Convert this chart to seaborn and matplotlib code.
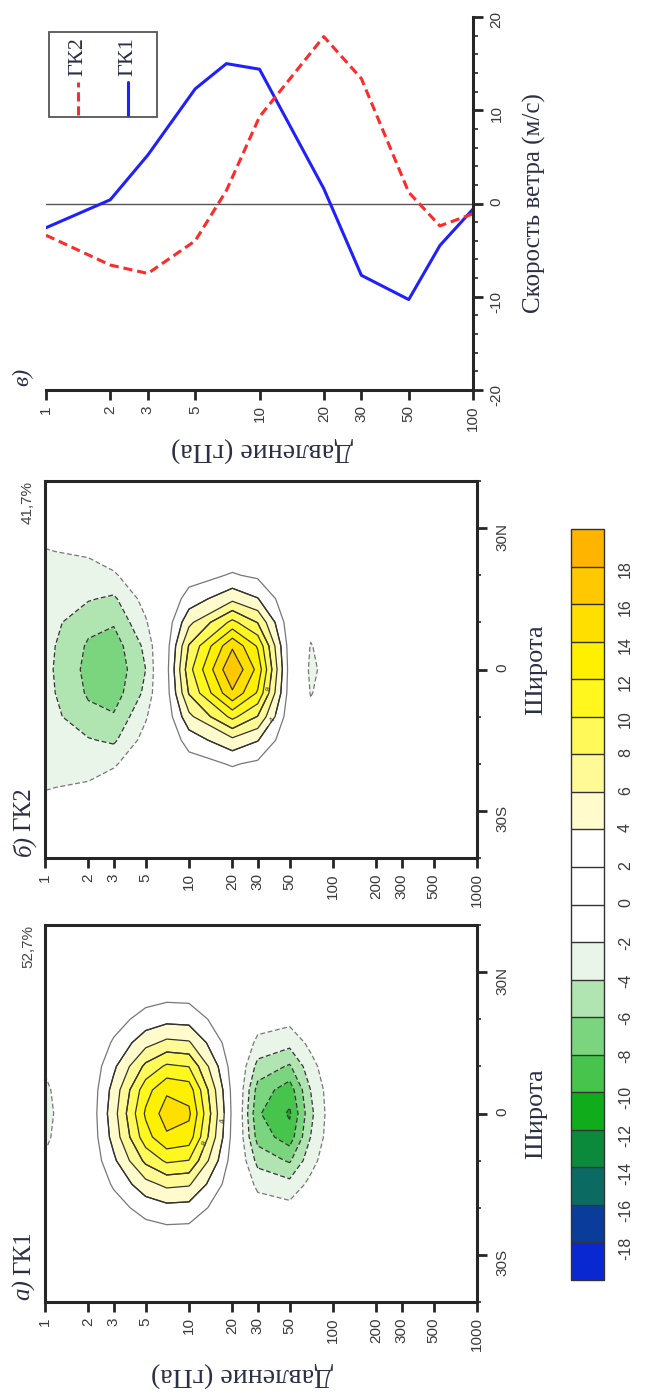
import numpy as np
import pandas as pd
import seaborn as sns
import matplotlib.pyplot as plt
from matplotlib.patches import Rectangle
from matplotlib.lines import Line2D
from matplotlib.ticker import NullLocator, FixedLocator

sns.set_style('ticks')
plt.rcParams['font.family'] = ['Liberation Sans', 'DejaVu Sans']
plt.rcParams['axes.unicode_minus'] = False
SERIF = ['Liberation Serif', 'DejaVu Serif']

# --- data -------------------------------------------------------------
# equatorial wind profiles of the two components (panel в), m/s
press = [1, 2, 3, 5, 7, 10, 20, 30, 50, 70, 100]
gk1_wind = [-2.6, 0.4, 5.2, 12.3, 15.0, 14.4, 1.6, -7.7, -10.3, -4.5, -0.6]
gk2_wind = [-3.4, -6.6, -7.5, -4.0, 1.4, 9.3, 17.9, 13.4, 1.2, -2.4, -1.1]

press_grid = press + [1000]
lat_half = [0, 5, 10, 15, 20, 25, 30, 35, 40]
gk1_lat_upper = [1, .911, .69, .433, .226, .097, .035, .01, .003]   # 1-20 hPa
gk1_lat_lower = [1, .882, .607, .325, .135, .044, .011, .002, 0]    # 30-1000 hPa
gk2_lat_1 = [1, .97, .9, .8, .7, .61, .45, .3, .2]
gk2_lat_2 = [1, .95, .82, .58, .4, .27, .15, .07, .03]
gk2_lat_3 = [1, .94, .77, .58, .3, .12, .04, .01, 0]
gk2_lat_5 = [1, .88, .56, .3, .12, .04, .01, 0, 0]
gk2_lat_core = [1, .877, .59, .306, .122, .037, .009, .002, 0]      # 7-1000 hPa

gk1_weights = [gk1_lat_upper] * 7 + [gk1_lat_lower] * 5
gk2_weights = [gk2_lat_1, gk2_lat_2, gk2_lat_3, gk2_lat_5] + [gk2_lat_core] * 8

explained = ['52,7%', '41,7%']
press_ticks = [1, 2, 3, 5, 10, 20, 30, 50, 100, 200, 300, 500, 1000]
press_ticks_c = [1, 2, 3, 5, 10, 20, 30, 50, 100]
wind_ticks = [-20, -10, 0, 10, 20]
lat_ticks = [-30, 0, 30]
lat_ticklabels = ['30S', '0', '30N']
levels = list(range(-20, 22, 2))
level_colors = ['#0a28d2', '#0a3c9c', '#0b6b62', '#0b8a3c', '#10ac1c',
                '#46c44c', '#7bd47e', '#b0e4b0', '#eaf5ea',
                '#ffffff', '#ffffff', '#ffffff',
                '#fffbcc', '#fffa96', '#fff95a', '#fff71e', '#fff000',
                '#ffdf00', '#ffc800', '#ffb400']

lats = np.array([-l for l in lat_half[::-1]] + lat_half[1:])


def full_field(profile, weights):
    prof = np.array(list(profile) + [0.0])
    w = np.array([row[::-1] + row[1:] for row in weights])
    return prof[:, None] * w   # (pressure, lat)


# --- figure -----------------------------------------------------------
W, H = 646, 1392
fig = plt.figure(figsize=(W / 100, H / 100), dpi=100)


def box(x0, y0, x1, y1):
    return [x0 / W, 1 - y1 / H, (x1 - x0) / W, (y1 - y0) / H]


def fpos(x, y):
    return x / W, 1 - y / H


TXT = '#2b2f45'
TICK = '#3a3a3a'

# panel в : wind profiles
ax_c = fig.add_axes(box(46, 17, 473, 390))
df = pd.DataFrame({'p': press * 2, 'u': gk1_wind + gk2_wind,
                   'comp': ['ГК1'] * len(press) + ['ГК2'] * len(press)})
ax_c.axhline(0, color='#555555', lw=1.0, zorder=1)
sns.lineplot(data=df, x='p', y='u', hue='comp', style='comp',
             palette={'ГК1': '#2020ff', 'ГК2': '#ff2a2a'},
             dashes={'ГК1': '', 'ГК2': (3, 1.6)}, lw=2.2,
             legend=False, ax=ax_c, estimator=None)
ax_c.set_xscale('log')
ax_c.set_xlim(1, 100)
ax_c.set_ylim(-20, 20)
ax_c.set_xlabel('')
ax_c.set_ylabel('')
ax_c.xaxis.set_major_locator(FixedLocator(press_ticks_c))
ax_c.xaxis.set_minor_locator(NullLocator())
ax_c.set_xticklabels([str(v) for v in press_ticks_c])
ax_c.yaxis.tick_right()
ax_c.set_yticks(wind_ticks)
ax_c.set_yticklabels([str(v) for v in wind_ticks])
ax_c.yaxis.set_minor_locator(FixedLocator([v for v in range(-20, 21, 2) if v % 10]))
for s in ['top', 'left']:
    ax_c.spines[s].set_visible(False)
for s in ['bottom', 'right']:
    ax_c.spines[s].set_linewidth(2.2)
ax_c.tick_params(axis='x', which='major', direction='out', length=7, width=2,
                 labelrotation=90, labelsize=11, labelcolor=TICK, pad=4)
ax_c.tick_params(axis='y', which='major', direction='out', length=7, width=2,
                 right=True, left=False, labelrotation=90, labelsize=11,
                 labelcolor=TICK, pad=5)
ax_c.tick_params(axis='y', which='minor', direction='out', length=3.5, width=1.2,
                 right=True, left=False)

# rotated legend
fig.add_artist(Rectangle(fpos(49, 117), 108 / W, 85 / H, transform=fig.transFigure,
                         fill=False, edgecolor='#555555', lw=1.3))
for x, name, col, ls in [(78, 'ГК2', '#ff2a2a', (0, (3, 1.6))), (128, 'ГК1', '#2020ff', '-')]:
    fig.add_artist(Line2D([x / W, x / W], [1 - 115 / H, 1 - 82 / H], transform=fig.transFigure,
                          color=col, lw=2.2, ls=ls))
    fig.text(*fpos(x, 76), name, rotation=90, rotation_mode='anchor', ha='left', va='center',
             fontsize=16, family=SERIF, color=TXT)

fig.text(*fpos(23, 386), 'в)', rotation=90, rotation_mode='anchor', ha='left', va='center',
         fontsize=17, family=SERIF, style='italic', color=TXT)
fig.text(*fpos(262, 450), 'Давление (гПа)', rotation=180, ha='center', va='center',
         fontsize=20, family=SERIF, color=TXT)
fig.text(*fpos(534, 203), 'Скорость ветра (м/с)', rotation=90, ha='center', va='center',
         fontsize=18, family=SERIF, color=TXT)


# panels а and б : latitude-pressure sections
def section(ax, field, label_pos):
    X = np.log10(press_grid)
    Z = field.T
    cf = ax.contourf(X, lats, Z, levels=levels, colors=level_colors)
    pos_lv = [v for v in levels if 0 < v < 20]
    neg_lv = [v for v in levels if -20 < v < 0]
    ax.contour(X, lats, Z, levels=pos_lv, linewidths=0.9, linestyles='solid',
               colors=['#777777'] + ['#333333'] * (len(pos_lv) - 1))
    ax.contour(X, lats, Z, levels=neg_lv, linewidths=0.9, linestyles=[(0, (4, 2))],
               colors=['#333333'] * (len(neg_lv) - 1) + ['#777777'])
    cs_lab = ax.contour(X, lats, Z, levels=[4, 8], linewidths=0.9, colors='#333333')
    ax.clabel(cs_lab, manual=label_pos, inline=True, fontsize=6, fmt='%d')
    ax.set_xlim(0, 3)
    ax.set_ylim(-40, 40)
    ax.set_xticks(np.log10(press_ticks))
    ax.set_xticklabels([str(v) for v in press_ticks])
    ax.yaxis.tick_right()
    ax.set_yticks(lat_ticks)
    ax.set_yticklabels(lat_ticklabels)
    ax.yaxis.set_minor_locator(FixedLocator([-40, -20, -10, 10, 20, 40]))
    for s in ax.spines.values():
        s.set_linewidth(2.2)
    ax.tick_params(axis='x', which='major', direction='out', length=7, width=2,
                   labelrotation=90, labelsize=11, labelcolor=TICK, pad=4)
    ax.tick_params(axis='y', which='major', direction='out', length=7, width=2,
                   right=True, left=False, labelrotation=90, labelsize=11,
                   labelcolor=TICK, pad=6)
    ax.tick_params(axis='y', which='minor', direction='out', length=3, width=1.2,
                   right=True, left=False)
    return cf


ax_b = fig.add_axes(box(45, 481, 477, 858))
section(ax_b, full_field(gk2_wind, gk2_weights), [(1.576, -4.0), (1.59, -11.0)])
ax_a = fig.add_axes(box(45, 925, 477, 1302))
cf = section(ax_a, full_field(gk1_wind, gk1_weights), [(1.26, -1.5), (1.118, -6.4)])

for top, bottom, lab, name, pct in [(481, 858, 'б)', 'ГК2', explained[1]),
                                     (925, 1302, 'а)', 'ГК1', explained[0])]:
    fig.text(*fpos(24, bottom - 2), lab, rotation=90, rotation_mode='anchor', ha='left',
             va='center', fontsize=18, family=SERIF, style='italic', color=TXT)
    fig.text(*fpos(24, bottom - 27), name, rotation=90, rotation_mode='anchor',
             ha='left', va='center', fontsize=18, family=SERIF, color=TXT)
    fig.text(*fpos(28, top), pct, rotation=90, rotation_mode='anchor', ha='right',
             va='center', fontsize=11, color='#444444')
    fig.text(*fpos(536, (top + bottom) / 2), 'Широта', rotation=90, ha='center',
             va='center', fontsize=19, family=SERIF, color=TXT)

fig.text(*fpos(242, 1375), 'Давление (гПа)', rotation=180, ha='center', va='center',
         fontsize=20, family=SERIF, color=TXT)

# colour bar
cax = fig.add_axes(box(571, 529, 604, 1280))
cb = fig.colorbar(cf, cax=cax, ticks=levels[1:-1], drawedges=True)
cb.outline.set_linewidth(1.0)
cb.outline.set_edgecolor('#333333')
cb.dividers.set_color('#333333')
cb.dividers.set_linewidth(1.0)
cax.set_yticklabels([str(v) for v in levels[1:-1]])
cax.tick_params(length=0, labelrotation=90, labelsize=11.5, labelcolor=TICK, pad=10)

fig.savefig('out.png', dpi=100)
